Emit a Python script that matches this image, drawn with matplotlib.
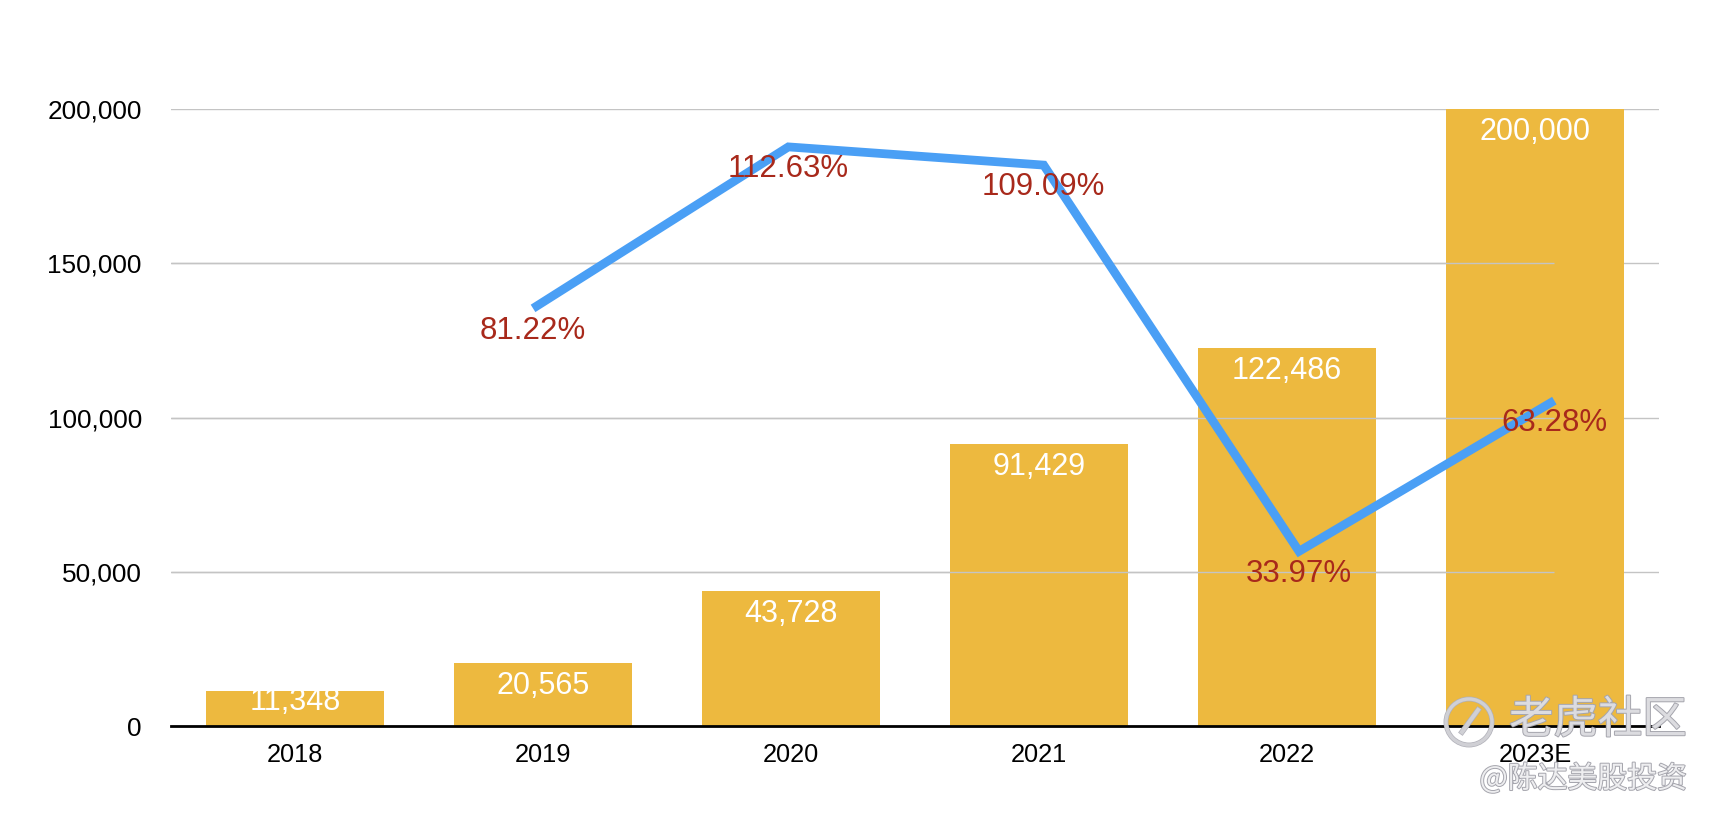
import matplotlib
matplotlib.use("Agg")
from matplotlib import pyplot as plt
from matplotlib.patches import Ellipse
import matplotlib.patheffects as pe

plt.rcParams['font.family'] = ['Liberation Sans', 'DejaVu Sans']

# data
years = ['2018', '2019', '2020', '2021', '2022', '2023E']
revenue = [11348, 20565, 43728, 91429, 122486, 200000]
growth_years = ['2019', '2020', '2021', '2022', '2023E']
growth = [81.22, 112.63, 109.09, 33.97, 63.28]

bar_color = '#edb93f'
line_color = '#4a9ff5'
pct_color = '#a8291b'
grid_color = '#c4c4c4'

fig = plt.figure(figsize=(17.22, 8.24), dpi=100)
pos = [171 / 1722, 98 / 824, 1488 / 1722, 617 / 824]

ax = fig.add_axes(pos)
xs = list(range(len(years)))
ax.bar(xs, revenue, width=0.72, color=bar_color, zorder=2)
ax.set_xlim(-0.5, 5.5)
ax.set_ylim(0, 200000)
ax.set_yticks([0, 50000, 100000, 150000, 200000])
ax.set_yticklabels(['{:,}'.format(v) for v in ax.get_yticks().astype(int)])
ax.set_xticks(xs)
ax.set_xticklabels(years)
ax.yaxis.grid(True, color=grid_color, linewidth=1.0, zorder=0)
ax.set_axisbelow(True)
for s in ['top', 'right', 'left']:
    ax.spines[s].set_visible(False)
ax.spines['bottom'].set_linewidth(2.0)
ax.spines['bottom'].set_color('black')
ax.spines['bottom'].set_zorder(3)
ax.tick_params(axis='y', length=0, pad=21, labelsize=18.8)
ax.tick_params(axis='x', length=0, pad=12, labelsize=18.3)

# value labels inside bars
for x, v in zip(xs, revenue):
    ly = max(v - 7450, 7800)
    ax.text(x, ly, '{:,}'.format(v), ha='center', va='center',
            color='white', fontsize=22, zorder=4)

# growth line on its own (hidden) axes
ax2 = fig.add_axes(pos, frameon=False)
gx = [years.index(y) for y in growth_years]
ax2.set_xlim(-0.418, 5.41)
ax2.set_ylim(0, 120)
ax2.set_xticks([])
ax2.set_yticks([])
# grid lines drawn over the bars up to the end of the line
ax2.hlines([30, 60, 90], -0.418, gx[-1], color=grid_color, linewidth=1.0, zorder=1)
ax2.plot(gx, growth, color=line_color, linewidth=6.3,
         solid_capstyle='butt', solid_joinstyle='miter', zorder=2)
for x, g in zip(gx, growth):
    ax2.annotate('{:.2f}%'.format(g), (x, g), xytext=(0, -16),
                 textcoords='offset points', ha='center', va='center',
                 color=pct_color, fontsize=22.5, zorder=3)

# watermark
wm_fx = [pe.withStroke(linewidth=1.4, foreground='#a5a5ad')]
fig.text(1687 / 1722, 1 - 720 / 824, '老虎社区', ha='right', va='center',
         fontsize=32, color='#dcdce0', family=['Noto Sans CJK SC', 'DejaVu Sans'],
         path_effects=wm_fx)
fig.text(1687 / 1722, 1 - 779 / 824, '@陈达美股投资', ha='right', va='center',
         fontsize=21.5, color='#eeeef0', family=['Noto Sans CJK SC', 'DejaVu Sans'],
         path_effects=wm_fx)
circ = Ellipse((1469 / 1722, 1 - 722 / 824), 46 / 1722, 46 / 824,
               transform=fig.transFigure, fill=False, edgecolor='#d0d0d5',
               linewidth=2.5, path_effects=[pe.withStroke(linewidth=3.5, foreground='#b0b0b8')])
fig.add_artist(circ)
fig.add_artist(plt.Line2D([1462 / 1722, 1478 / 1722], [1 - 732 / 824, 1 - 710 / 824],
                          transform=fig.transFigure, color='#d0d0d5', linewidth=3,
                          path_effects=[pe.withStroke(linewidth=4, foreground='#b0b0b8')]))

fig.savefig('out.png', dpi=100)
